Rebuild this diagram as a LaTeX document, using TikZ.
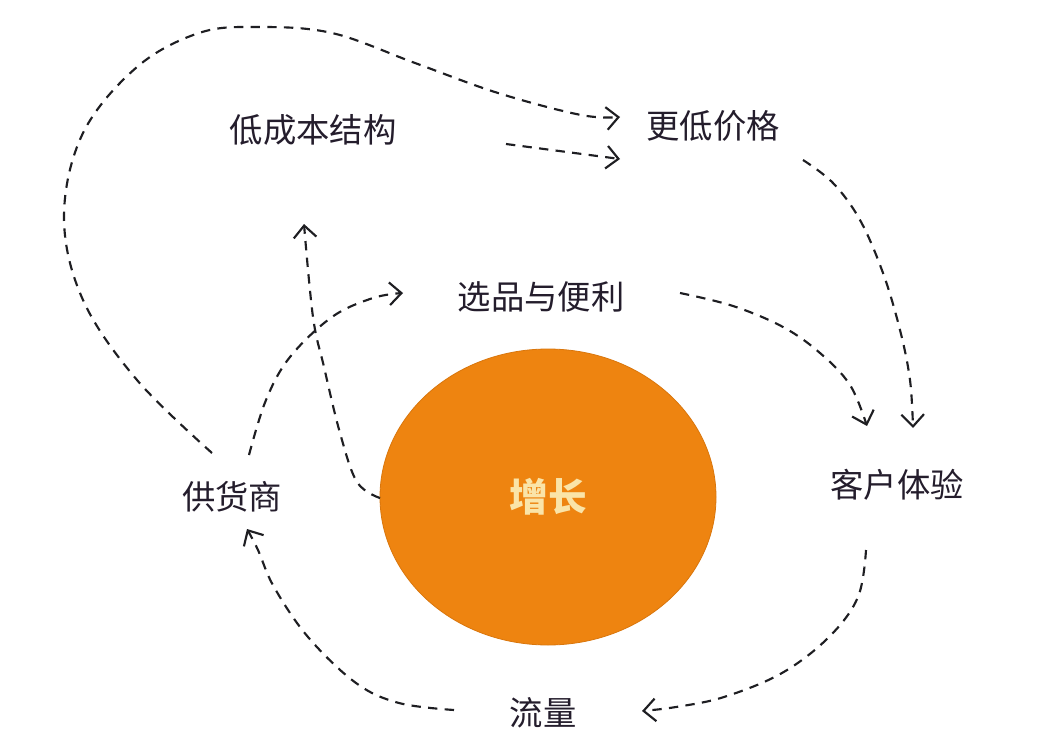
\documentclass[tikz,border=0pt]{standalone}
\usepackage{fontspec}
\newfontfamily\cjk{Noto Sans CJK SC}
\usetikzlibrary{arrows.meta,shapes.geometric}
\definecolor{ink}{HTML}{241D2C}
\definecolor{line}{HTML}{1E1E22}
\definecolor{orangefill}{HTML}{EE8410}
\definecolor{orangeedge}{HTML}{D9760C}
\definecolor{growtext}{HTML}{FAE4A8}
\begin{document}
\begin{tikzpicture}[x=0.75pt,y=-0.75pt,
  lbl/.style={font=\cjk\fontsize{25}{30}\selectfont, text=ink, inner sep=2pt},
  flow/.style={draw=line, line width=1.6pt, dash pattern=on 7pt off 5.5pt,
    -{Straight Barb[length=9pt,width=17pt,line width=1.6pt]}},
  ]
\useasboundingbox[fill=white] (0,0) rectangle (1050,746);
% central ellipse
\node[ellipse, fill=orangefill, draw=orangeedge, line width=0.6pt, inner sep=0pt,
  minimum width=252pt, minimum height=222pt] (grow) at (548,497) {};
\node[font=\cjk\bfseries\fontsize{29}{33}\selectfont, text=growtext] (growlbl) at (548,497) {增长};
% labels
\node[lbl] (cost) at (313,130) {低成本结构};
\node[lbl] (price) at (713,126) {更低价格};
\node[lbl] (sel) at (541,297) {选品与便利};
\node[lbl] (cx) at (897,485) {客户体验};
\node[lbl] (sup) at (232,497) {供货商};
\node[lbl] (traffic) at (543,713) {流量};
% connector endpoints
\coordinate (s1) at (212,453);
\coordinate (e1) at (620,117);
\coordinate (s2) at (506,144);
\coordinate (e2) at (620,159);
\coordinate (s3) at (380,498);
\coordinate (e3) at (304,224);
\coordinate (s4) at (249,455);
\coordinate (e4) at (403,293);
\coordinate (s5) at (803,160);
\coordinate (e5) at (913,428);
\coordinate (s6) at (680,293);
\coordinate (e6) at (867,426);
\coordinate (s7) at (866,550);
\coordinate (e7) at (642,711);
\coordinate (s8) at (454,710);
\coordinate (e8) at (247,529);
% connectors
\draw[flow] plot[smooth, tension=0.6] coordinates {(s1) (137,380) (83,300) (64,217) (83,133) (137,67) (199,33) (257,27) (332,33) (415,63) (498,93) (581,115) (e1)};
\draw[flow] (s2) -- (e2);
\draw[flow] plot[smooth, tension=0.6] coordinates {(s3) (357,482) (340,433) (324,367) (313,317) (e3)};
\draw[flow] plot[smooth, tension=0.6] coordinates {(s4) (266,400) (290,357) (332,317) (373,298) (e4)};
\draw[flow] plot[smooth, tension=0.6] coordinates {(s5) (833,183) (860,220) (883,273) (900,330) (910,380) (e5)};
\draw[flow] plot[smooth, tension=0.6] coordinates {(s6) (733,306) (783,327) (820,353) (850,385) (e6)};
\draw[flow] plot[smooth, tension=0.6] coordinates {(s7) (858,597) (829,637) (782,673) (724,697) (676,707) (e7)};
\draw[flow] plot[smooth, tension=0.6] coordinates {(s8) (399,703) (356,683) (308,637) (274,587) (258,550) (e8)};
\end{tikzpicture}
\end{document}
